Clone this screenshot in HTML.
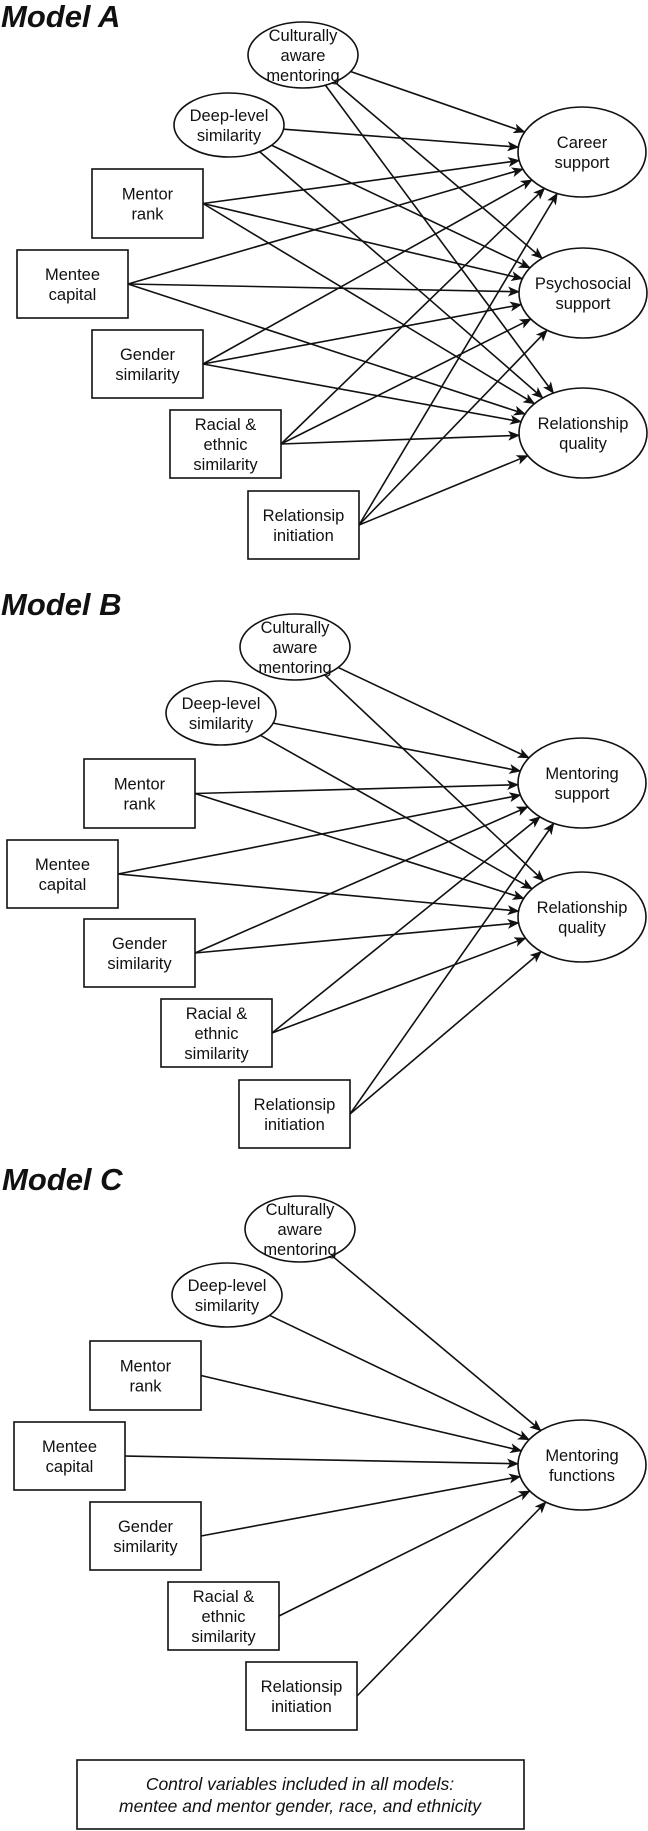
<!DOCTYPE html>
<html><head><meta charset="utf-8">
<style>
html,body{margin:0;padding:0;background:#fff;}
svg{display:block;}
text{font-family:"Liberation Sans",Arial,sans-serif;fill:#111;}
.n{font-size:16.5px;text-anchor:middle;}
.t{font-size:31px;font-weight:bold;font-style:italic;}
.c{font-size:17.5px;font-style:italic;text-anchor:middle;}
</style></head>
<body>
<svg id="s" width="648" height="1831" viewBox="0 0 648 1831" xmlns="http://www.w3.org/2000/svg">
<defs><marker id="a" viewBox="0 0 12 10" refX="11" refY="5" markerWidth="12" markerHeight="10" markerUnits="userSpaceOnUse" orient="auto"><path d="M0,0 L12,5 L0,10 L3,5 z" fill="#111"/></marker></defs>
<text class="t" x="1" y="27">Model A</text>
<text class="t" x="1" y="615">Model B</text>
<text class="t" x="2" y="1190">Model C</text>
<rect x="77" y="1760" width="447" height="69" fill="none" stroke="#111" stroke-width="1.6"/>
<text class="c" x="300" y="1790">Control variables included in all models:</text>
<text class="c" x="300" y="1812">mentee and mentor gender, race, and ethnicity</text>
<g id="g"></g>
</svg>
<script>
var NS="http://www.w3.org/2000/svg",g=document.getElementById('g');
function el(t,a,txt){var e=document.createElementNS(NS,t);for(var k in a)e.setAttribute(k,a[k]);if(txt)e.textContent=txt;g.appendChild(e);return e;}
function label(cx,cy,lines){var lh=20,y0=cy-(lines.length-1)*lh/2+6;lines.forEach(function(l,i){el('text',{'class':'n',x:cx,y:y0+i*lh},l);});}
function E(cx,cy,rx,ry,lines){el('ellipse',{cx:cx,cy:cy,rx:rx,ry:ry,fill:'#fff',stroke:'#111','stroke-width':1.6});label(cx,cy,lines);return {t:'e',cx:cx,cy:cy,rx:rx,ry:ry};}
function B(x1,y1,x2,y2,lines){el('rect',{x:x1,y:y1,width:x2-x1,height:y2-y1,fill:'#fff',stroke:'#111','stroke-width':1.6});label((x1+x2)/2,(y1+y2)/2,lines);return {t:'b',x2:x2,cx:(x1+x2)/2,cy:(y1+y2)/2};}
function clipE(e,tx,ty){var dx=tx-e.cx,dy=ty-e.cy;var k=1/Math.sqrt(dx*dx/(e.rx*e.rx)+dy*dy/(e.ry*e.ry));return [e.cx+dx*k,e.cy+dy*k];}
function edge(s,t){var p;if(s.t=='b')p=[s.x2,s.cy];else p=clipE(s,t.cx,t.cy);var q=clipE(t,p[0],p[1]);
 var ln=document.createElementNS(NS,'line');ln.setAttribute('x1',p[0]);ln.setAttribute('y1',p[1]);ln.setAttribute('x2',q[0]);ln.setAttribute('y2',q[1]);ln.setAttribute('stroke','#111');ln.setAttribute('stroke-width',1.6);ln.setAttribute('marker-end','url(#a)');g.insertBefore(ln,g.firstChild);}
function model(o,srcs,tg){
 var S=[E(o[0][0],o[0][1],55,33,['Culturally','aware','mentoring']),
 E(o[1][0],o[1][1],55,32,['Deep-level','similarity']),
 B(o[2][0],o[2][1],o[2][0]+111,o[2][1]+69,['Mentor','rank']),
 B(o[3][0],o[3][1],o[3][0]+111,o[3][1]+68,['Mentee','capital']),
 B(o[4][0],o[4][1],o[4][0]+111,o[4][1]+68,['Gender','similarity']),
 B(o[5][0],o[5][1],o[5][0]+111,o[5][1]+68,['Racial &','ethnic','similarity']),
 B(o[6][0],o[6][1],o[6][0]+111,o[6][1]+68,['Relationsip','initiation'])];
 var T=tg.map(function(t){return E(t[0],t[1],64,45,t[2]);});
 S.forEach(function(s){T.forEach(function(t){edge(s,t);});});
}
model([[303,55],[229,125],[92,169],[17,250],[92,330],[170,410],[248,491]],0,
 [[582,152,['Career','support']],[583,293,['Psychosocial','support']],[583,433,['Relationship','quality']]]);
model([[295,647],[221,713],[84,759],[7,840],[84,919],[161,999],[239,1080]],0,
 [[582,783,['Mentoring','support']],[582,917,['Relationship','quality']]]);
model([[300,1229],[227,1295],[90,1341],[14,1422],[90,1502],[168,1582],[246,1662]],0,
 [[582,1465,['Mentoring','functions']]]);
</script>
</body></html>
